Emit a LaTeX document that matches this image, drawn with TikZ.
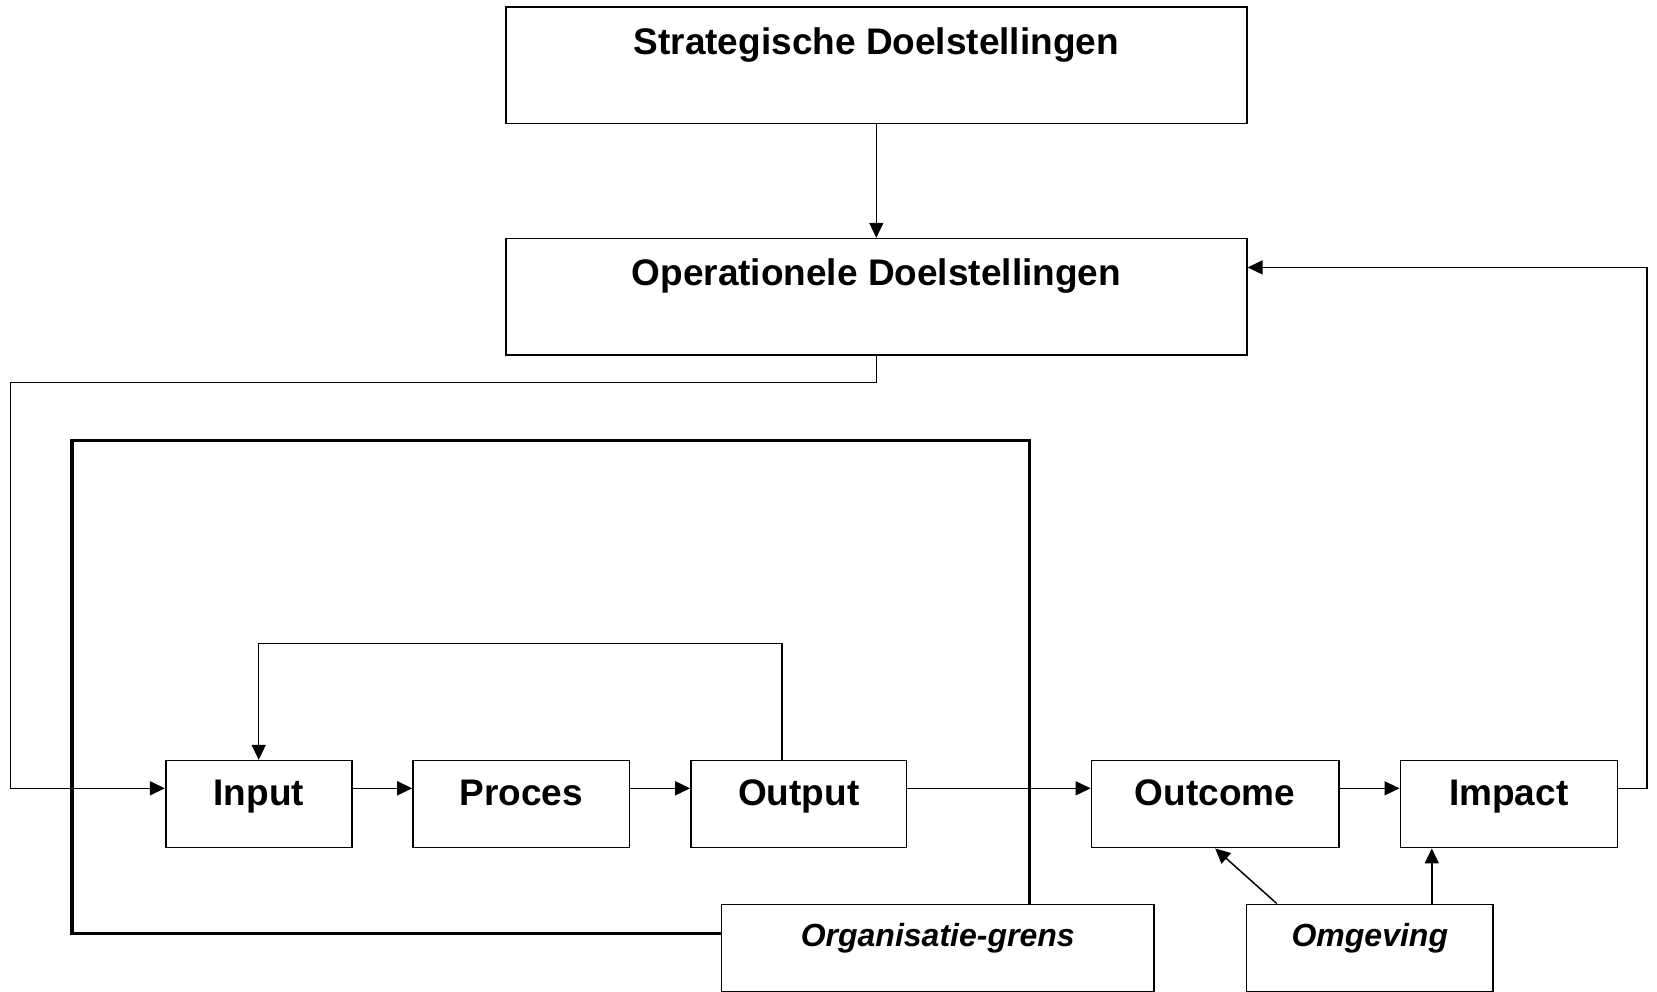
\documentclass[tikz,border=0pt]{standalone}
\usepackage{fontspec}
\setmainfont{Liberation Sans}
\usetikzlibrary{arrows.meta}

\begin{document}
\begin{tikzpicture}[x=0.5pt,y=-0.5pt,
  box/.style={draw,line width=0.8pt,fill=white,anchor=north west,inner sep=0pt,
    font=\fontsize{18.5}{22}\selectfont\bfseries},
  tag/.style={box,font=\fontsize{16}{19}\selectfont\bfseries\itshape,
    text height=21pt,text depth=22.5pt},
  arr/.style={line width=0.75pt,-{Triangle[length=7.5pt,width=7pt]}}]
\useasboundingbox (0,0) rectangle (1657,991);
\draw[line width=1.7pt] (71.9,440.7) rectangle (1029.3,933.2);
\node[box,minimum width=370.5pt,text height=23.5pt,text depth=34.65pt] (Strat) at (505,6.3) {Strategische Doelstellingen};
\node[box,minimum width=370.5pt,text height=23.5pt,text depth=34.65pt] (Op) at (505,237.8) {Operationele Doelstellingen};
\node[box,minimum width=93pt,text height=22.2pt,text depth=21.3pt] (Input) at (164.9,759.8) {Input};
\node[box,minimum width=108.3pt,text height=22.2pt,text depth=21.3pt] (Proces) at (412.2,759.8) {Proces};
\node[box,minimum width=107.8pt,text height=22.2pt,text depth=21.3pt] (Output) at (690.1,759.8) {Output};
\node[box,minimum width=123.7pt,text height=22.2pt,text depth=21.3pt] (Outcome) at (1090.6,759.8) {Outcome};
\node[box,minimum width=108.5pt,text height=22.2pt,text depth=21.3pt] (Impact) at (1399.5,759.8) {Impact};
\node[tag,minimum width=216.2pt] (Grens) at (720.7,903.6) {Organisatie-grens};
\node[tag,minimum width=123.3pt] (Omgeving) at (1245.7,903.6) {Omgeving};
\coordinate (row) at (0,788.3);
\coordinate (lft) at (10.6,382.6);
\coordinate (rgt) at (1647,267.4);
\coordinate (top) at (782,643.6);
\draw[arr] (Strat) -- (Op);
\draw[arr] (Op.south) |- (lft) |- (Input.west |- row);
\draw[arr] (Input.east |- row) -- (Proces.west |- row);
\draw[arr] (Proces.east |- row) -- (Output.west |- row);
\draw[arr] (Output.east |- row) -- (Outcome.west |- row);
\draw[arr] (Outcome.east |- row) -- (Impact.west |- row);
\draw[arr] (Impact.east |- row) -| (rgt) -- (Op.east |- rgt);
\draw[arr] (Output.north -| top) -- (top) -| (Input.north);
\draw[arr] ([xshift=-46.5pt]Omgeving.north) -- (Outcome.south);
\draw[arr] ([xshift=31pt]Omgeving.north) -- ([xshift=31pt]Omgeving.north |- Impact.south);
\end{tikzpicture}
\end{document}
